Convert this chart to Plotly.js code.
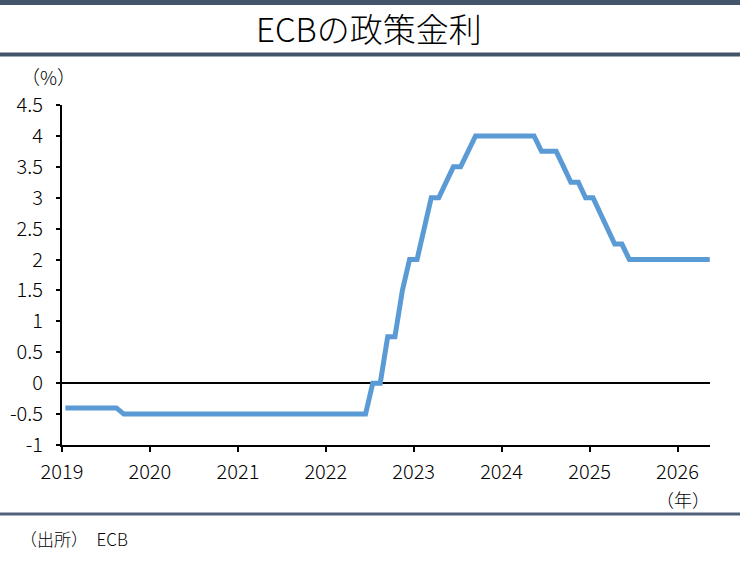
<!DOCTYPE html>
<html>
<head>
<meta charset="utf-8">
<script src="https://cdn.plot.ly/plotly-3.0.1.min.js"></script>
<style>
  html, body { margin: 0; padding: 0; background: #fff; }
  #chart { width: 740px; height: 562px; }
</style>
</head>
<body>
<div id="chart"></div>
<script>
// ECB deposit facility rate, month-end values (%)
const years = [2019, 2020, 2021, 2022, 2023, 2024, 2025, 2026];
const rates2019 = [-0.4, -0.4, -0.4, -0.4, -0.4, -0.4, -0.4, -0.4, -0.5, -0.5, -0.5, -0.5];
const rates2020 = [-0.5, -0.5, -0.5, -0.5, -0.5, -0.5, -0.5, -0.5, -0.5, -0.5, -0.5, -0.5];
const rates2021 = [-0.5, -0.5, -0.5, -0.5, -0.5, -0.5, -0.5, -0.5, -0.5, -0.5, -0.5, -0.5];
const rates2022 = [-0.5, -0.5, -0.5, -0.5, -0.5, -0.5, 0, 0, 0.75, 0.75, 1.5, 2.0];
const rates2023 = [2.0, 2.5, 3.0, 3.0, 3.25, 3.5, 3.5, 3.75, 4.0, 4.0, 4.0, 4.0];
const rates2024 = [4.0, 4.0, 4.0, 4.0, 4.0, 3.75, 3.75, 3.75, 3.5, 3.25, 3.25, 3.0];
const rates2025 = [3.0, 2.75, 2.5, 2.25, 2.25, 2.0, 2.0, 2.0, 2.0, 2.0, 2.0, 2.0];
const rates2026 = [2.0, 2.0, 2.0, 2.0, 2.0];
const ratesByYear = [rates2019, rates2020, rates2021, rates2022, rates2023, rates2024, rates2025, rates2026];

const yTickVals = [-1, -0.5, 0, 0.5, 1, 1.5, 2, 2.5, 3, 3.5, 4, 4.5];
const yTickText = ["-1", "-0.5", "0", "0.5", "1", "1.5", "2", "2.5", "3", "3.5", "4", "4.5"];
const xTickVals = years.map(y => y + "-01-01");
const xTickText = years.map(y => String(y));

// monthly points, placed mid-month
const dates = [];
const rates = [];
ratesByYear.forEach((arr, i) => {
  arr.forEach((v, m) => {
    dates.push(years[i] + "-" + String(m + 1).padStart(2, "0") + "-15");
    rates.push(v);
  });
});

const FONT = "Noto Sans CJK JP, Noto Sans, sans-serif";
const BAR = "#44546A";

const trace = {
  x: dates,
  y: rates,
  type: "scatter",
  mode: "lines",
  line: { color: "#5B9BD5", width: 5 },
  hoverinfo: "skip",
};

// plot area: x 62..710 px, y 105..445 px
const px = x => (x - 62) / 648;
const py = y => (445 - y) / 340;

const layout = {
  width: 740,
  height: 562,
  margin: { l: 62, r: 30, t: 105, b: 117 },
  paper_bgcolor: "#fff",
  plot_bgcolor: "#fff",
  showlegend: false,
  font: { family: FONT, size: 17, color: "#000" },
  xaxis: {
    type: "date",
    range: ["2019-01-01", "2026-05-16"],
    tickvals: xTickVals,
    ticktext: xTickText,
    showgrid: false,
    zeroline: false,
    showline: true,
    linecolor: "#000",
    linewidth: 2,
    ticks: "outside",
    ticklen: 5,
    tickwidth: 2,
    tickcolor: "#000",
    ticklabelstandoff: 3,
    tickfont: { family: FONT, size: 20, color: "#000", weight: 300 },
    fixedrange: true,
  },
  yaxis: {
    range: [-1, 4.5],
    tickvals: yTickVals,
    ticktext: yTickText,
    showgrid: false,
    zeroline: true,
    zerolinecolor: "#000",
    zerolinewidth: 2,
    showline: true,
    linecolor: "#000",
    linewidth: 2,
    ticks: "outside",
    ticklen: 4,
    tickwidth: 2,
    tickcolor: "#000",
    ticklabelstandoff: 9,
    tickfont: { family: FONT, size: 20, color: "#000", weight: 300 },
    fixedrange: true,
  },
  shapes: [
    { type: "line", xref: "paper", yref: "paper", x0: px(0), x1: px(740), y0: py(2.5), y1: py(2.5), line: { color: BAR, width: 5 } },
    { type: "line", xref: "paper", yref: "paper", x0: px(0), x1: px(740), y0: py(54.5), y1: py(54.5), line: { color: BAR, width: 4 } },
    { type: "line", xref: "paper", yref: "paper", x0: px(0), x1: px(740), y0: py(514), y1: py(514), line: { color: "#52627A", width: 3 } },
  ],
  annotations: [
    { text: "ECBの政策金利", xref: "paper", yref: "paper", x: px(369), y: py(28), xanchor: "center", yanchor: "middle", showarrow: false, font: { family: FONT, size: 33, color: "#000", weight: 300 } },
    { text: "（%）", xref: "paper", yref: "paper", x: px(48), y: py(76), xanchor: "center", yanchor: "middle", showarrow: false, font: { family: FONT, size: 19, color: "#000", weight: 300 } },
    { text: "（年）", xref: "paper", yref: "paper", x: px(712), y: py(499), xanchor: "right", yanchor: "middle", showarrow: false, font: { family: FONT, size: 18, color: "#000", weight: 300 } },
    { text: "（出所）\u2002ECB", xref: "paper", yref: "paper", x: px(18), y: py(538), xanchor: "left", yanchor: "middle", showarrow: false, font: { family: FONT, size: 17, color: "#000", weight: 300 } },
  ],
};

Plotly.newPlot("chart", [trace], layout, { displayModeBar: false, staticPlot: true });
</script>
</body>
</html>
